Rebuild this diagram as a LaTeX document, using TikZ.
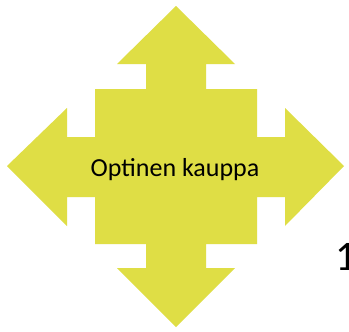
\documentclass[tikz,border=0pt]{standalone}
\usepackage{fontspec}
\setmainfont{Carlito}
\definecolor{arrowfill}{RGB}{223,222,69}
\begin{document}
\begin{tikzpicture}[x=1pt,y=-1pt,
  shapefill/.style={fill=arrowfill,draw=none},
  lbl/.style={font=\fontsize{26}{30}\selectfont,inner sep=0pt,text=black},
  numlbl/.style={font=\fontsize{42}{48}\selectfont,inner sep=0pt,text=black}]
\useasboundingbox (0,0) rectangle (349,332);
\fill[white] (0,0) rectangle (349,332);
\path[shapefill] (176,6) -- (235,64) -- (206,64) -- (206,89) -- (257,89) -- (257,137)
  -- (285,137) -- (285,108) -- (344,166) -- (285,226) -- (285,197) -- (257,197)
  -- (257,244) -- (206,244) -- (206,268) -- (235,268) -- (176,327) -- (117,268)
  -- (146,268) -- (146,244) -- (95,244) -- (95,197) -- (67,197) -- (67,226)
  -- (7,166) -- (67,108) -- (67,137) -- (95,137) -- (95,89) -- (146,89)
  -- (146,64) -- (117,64) -- cycle;
\node[lbl,anchor=base] (title) at (175,176) {Optinen kauppa};
\node[numlbl,anchor=base west] (num) at (335,270) {1};
\end{tikzpicture}
\end{document}
